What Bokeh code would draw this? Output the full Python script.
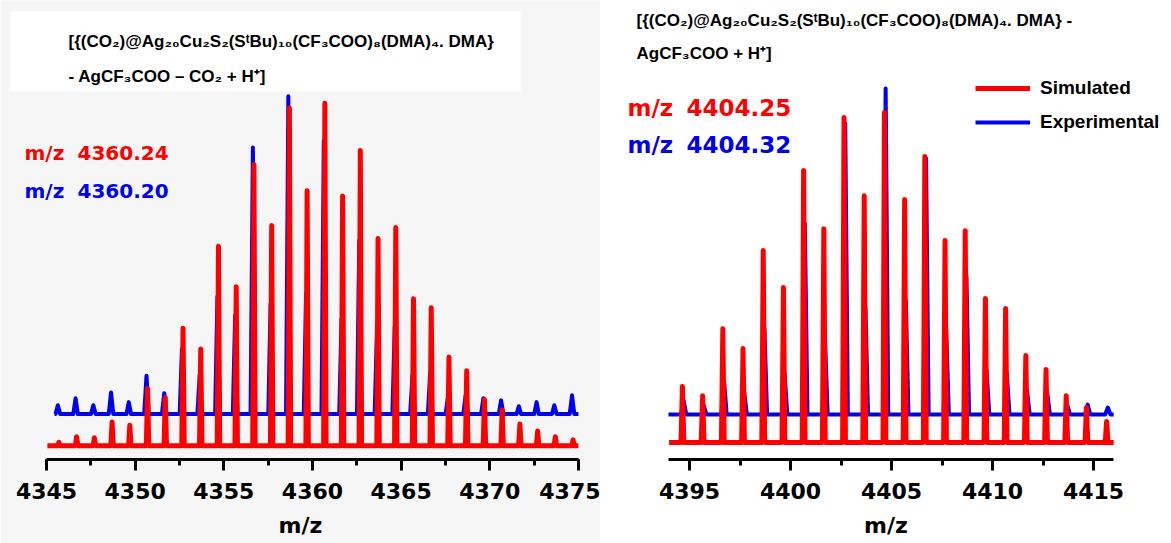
from bokeh.plotting import figure
from bokeh.layouts import row
from bokeh.models import (LinearAxis, SingleIntervalTicker, Range1d, Label, Legend,
                          LegendItem, BoxAnnotation, BasicTickFormatter)
from bokeh.embed import file_html
from bokeh.resources import INLINE

FONT = "Liberation Sans"
WIDE = "DejaVu Sans"
RED = "#ff0000"
BLUE = "#0000ee"

# ---------------- data (relative intensity, %) ----------------
left_sim_mz = [4345.7, 4346.7, 4347.7, 4348.7, 4349.7, 4350.7, 4351.7, 4352.7, 4353.7, 4354.7,
               4355.7, 4356.7, 4357.7, 4358.7, 4359.7, 4360.7, 4361.7, 4362.7, 4363.7, 4364.7,
               4365.7, 4366.7, 4367.7, 4368.7, 4369.7, 4370.7, 4371.7, 4372.7, 4373.7, 4374.7]
left_sim_int = [1.0, 2.6, 2.3, 6.9, 6.0, 16.7, 14.1, 34.3, 28.2, 58.2,
                46.4, 82.1, 64.3, 98.6, 74.4, 100.0, 72.9, 86.2, 60.5, 63.7,
                42.9, 40.3, 25.9, 21.9, 13.5, 10.4, 6.3, 4.3, 2.6, 1.7]
left_exp_mz = [4345.64, 4346.64, 4347.64, 4348.64, 4349.64, 4350.64, 4351.64, 4352.64, 4353.64,
               4354.64, 4355.64, 4356.64, 4357.64, 4358.64, 4359.64, 4360.64, 4361.64, 4362.64,
               4363.64, 4364.64, 4365.64, 4366.64, 4367.64, 4368.64, 4369.64, 4370.64, 4371.64,
               4372.64, 4373.64, 4374.64]
left_exp_int = [2.6, 4.6, 2.6, 6.3, 3.5, 11.2, 6.1, 19.0, 11.5, 34.3,
                28.8, 77.8, 32.3, 92.8, 35.2, 79.8, 27.7, 50.7, 24.8, 25.6,
                11.2, 12.1, 4.9, 5.5, 4.6, 4.0, 2.3, 3.5, 2.6, 5.5]

right_sim_mz = [4394.65, 4395.65, 4396.65, 4397.65, 4398.65, 4399.65, 4400.65, 4401.65,
                4402.65, 4403.65, 4404.65, 4405.65, 4406.65, 4407.65, 4408.65, 4409.65,
                4410.65, 4411.65, 4412.65, 4413.65, 4414.65, 4415.65]
right_sim_int = [17.0, 14.2, 34.5, 28.5, 58.2, 47.0, 82.4, 64.8, 98.5, 74.8, 100.0,
                 73.6, 86.7, 61.2, 64.2, 43.6, 40.6, 26.4, 22.1, 14.2, 10.6, 6.4]
right_exp_mz = [4394.71, 4395.71, 4396.71, 4397.71, 4398.71, 4399.71, 4400.71, 4401.71,
                4402.71, 4403.71, 4404.71, 4405.71, 4406.71, 4407.71, 4408.71, 4409.71,
                4410.71, 4411.71, 4412.71, 4413.71, 4414.71, 4415.71]
right_exp_int = [4.2, 2.7, 10.3, 6.7, 26.1, 12.4, 57.9, 22.4, 88.2, 32.4, 98.8,
                 34.5, 77.6, 25.5, 42.1, 13.3, 12.4, 7.3, 6.7, 2.7, 3.0, 2.1]

left_title = ["[{(CO\u2082)@Ag\u2082\u2080Cu\u2082S\u2082(S\u1d57Bu)\u2081\u2080(CF\u2083COO)\u2088(DMA)\u2084. DMA}",
              "- AgCF\u2083COO \u2013 CO\u2082 + H\u207a]"]
right_title = ["[{(CO\u2082)@Ag\u2082\u2080Cu\u2082S\u2082(S\u1d57Bu)\u2081\u2080(CF\u2083COO)\u2088(DMA)\u2084. DMA} -",
               "AgCF\u2083COO + H\u207a]"]
note_prefix = "m/z"
axis_title = "m/z"
left_values = ["4360.24", "4360.20"]
right_values = ["4404.25", "4404.32"]
legend_labels = ["Simulated", "Experimental"]


def profile(mz, inten, lo, hi, half, offset):
    xs = [lo]
    ys = [offset]
    for m, h in zip(mz, inten):
        xs += [m - half, m, m + half]
        ys += [offset, offset + h, offset]
    xs.append(hi)
    ys.append(offset)
    return xs, ys


def add_axis(p, lo, hi, title_standoff):
    ax = LinearAxis(ticker=SingleIntervalTicker(interval=5, num_minor_ticks=2),
                    formatter=BasicTickFormatter(use_scientific=False),
                    bounds=(lo, hi), axis_label=axis_title)
    ax.axis_line_width = 3
    ax.axis_line_color = "black"
    ax.major_tick_line_width = 3
    ax.major_tick_line_color = "black"
    ax.major_tick_out = 11
    ax.major_tick_in = 0
    ax.minor_tick_line_width = 3
    ax.minor_tick_line_color = "black"
    ax.minor_tick_out = 6
    ax.minor_tick_in = 0
    ax.major_label_text_font = WIDE
    ax.major_label_text_font_style = "bold"
    ax.major_label_text_font_size = "22px"
    ax.major_label_text_color = "black"
    ax.major_label_standoff = 12
    ax.axis_label_text_font = WIDE
    ax.axis_label_text_font_style = "bold"
    ax.axis_label_text_font_size = "22px"
    ax.axis_label_text_color = "black"
    ax.axis_label_standoff = title_standoff
    p.add_layout(ax, "below")


def label(p, x, y, text, size, color, font=FONT):
    p.add_layout(Label(x=x, y=y, x_units="screen", y_units="screen", text=text,
                       text_font=font, text_font_style="bold", text_font_size=size,
                       text_color=color, text_baseline="middle", text_align="left"))


# ---------------- left panel ----------------
L_W, L_H, L_AXIS = 600, 543, 465
L_PX = 17.73          # px per m/z unit
L_X0 = 46             # px of 4345
L_PPC = 3.47          # px per percent
L_BASE = 14           # red baseline above axis, px
L_BLUE = 32           # blue baseline above red baseline, px

pl = figure(width=L_W, height=L_H, output_backend="svg", toolbar_location=None,
            x_axis_type=None, y_axis_type=None,
            x_range=Range1d(4345 - L_X0 / L_PX, 4345 + (L_W - L_X0) / L_PX),
            y_range=Range1d(-L_BASE / L_PPC, (L_AXIS - L_BASE) / L_PPC),
            min_border_left=0, min_border_right=0, min_border_top=0,
            min_border_bottom=L_H - L_AXIS)
pl.outline_line_color = None
pl.background_fill_color = "#f6f6f6"
pl.border_fill_color = "#f6f6f6"
pl.add_layout(BoxAnnotation(left=10, right=520, top=L_AXIS - 17, bottom=L_AXIS - 97,
                            left_units="screen", right_units="screen",
                            top_units="screen", bottom_units="screen",
                            fill_color="white", fill_alpha=1.0, line_color=None,
                            level="underlay"))

bx, by = profile(left_exp_mz, left_exp_int, 4345.45, 4375.0, 0.13, L_BLUE / L_PPC)
pl.line(bx, by, line_color=BLUE, line_width=4, line_join="round")
rx, ry = profile(left_sim_mz, left_sim_int, 4345.05, 4375.0, 0.07, 0.0)
pl.line(rx, ry, line_color=RED, line_width=5, line_join="round")
add_axis(pl, 4345, 4375, 11)

label(pl, 68, L_AXIS - 47, left_title[0], "17px", "black")
label(pl, 68, L_AXIS - 82, left_title[1], "17px", "black")
label(pl, 24, L_AXIS - 158, note_prefix, "20px", RED, WIDE)
label(pl, 77, L_AXIS - 158, left_values[0], "20px", RED, WIDE)
label(pl, 24, L_AXIS - 196, note_prefix, "20px", BLUE, WIDE)
label(pl, 77, L_AXIS - 196, left_values[1], "20px", BLUE, WIDE)

# ---------------- right panel ----------------
R_W, R_H, R_AXIS = 571, 543, 459
R_PX = 20.2
R_X0 = 89             # local px of 4395
R_PPC = 3.30
R_BASE = 17
R_BLUE = 28

pr = figure(width=R_W, height=R_H, output_backend="svg", toolbar_location=None,
            x_axis_type=None, y_axis_type=None,
            x_range=Range1d(4395 - R_X0 / R_PX, 4395 + (R_W - R_X0) / R_PX),
            y_range=Range1d(-R_BASE / R_PPC, (R_AXIS - R_BASE) / R_PPC),
            min_border_left=0, min_border_right=0, min_border_top=0,
            min_border_bottom=R_H - R_AXIS)
pr.outline_line_color = None
pr.background_fill_color = "white"
pr.border_fill_color = "white"

bx, by = profile(right_exp_mz, right_exp_int, 4393.96, 4416.0, 0.13, R_BLUE / R_PPC)
rb = pr.line(bx, by, line_color=BLUE, line_width=4, line_join="round")
rx, ry = profile(right_sim_mz, right_sim_int, 4393.99, 4416.0, 0.07, 0.0)
rr = pr.line(rx, ry, line_color=RED, line_width=5, line_join="round")
add_axis(pr, 4393.96, 4416.0, 11)

label(pr, 36, R_AXIS - 20, right_title[0], "17px", "black")
label(pr, 36, R_AXIS - 53, right_title[1], "17px", "black")
label(pr, 27, R_AXIS - 107, note_prefix, "23px", RED, WIDE)
label(pr, 86, R_AXIS - 107, right_values[0], "23px", RED, WIDE)
label(pr, 27, R_AXIS - 144, note_prefix, "23px", BLUE, WIDE)
label(pr, 86, R_AXIS - 144, right_values[1], "23px", BLUE, WIDE)

leg = Legend(items=[LegendItem(label=legend_labels[0], renderers=[rr]),
                    LegendItem(label=legend_labels[1], renderers=[rb])],
             location=(375, R_AXIS - 133), padding=0, margin=0, spacing=12,
             glyph_width=55, glyph_height=20, label_height=20, label_standoff=10,
             label_text_font=FONT, label_text_font_style="bold",
             label_text_font_size="19px", label_text_color="black",
             background_fill_alpha=0, border_line_color=None)
pr.add_layout(leg)

layout = row(pl, pr, spacing=0)
open("out.html", "w").write(file_html(layout, INLINE))
